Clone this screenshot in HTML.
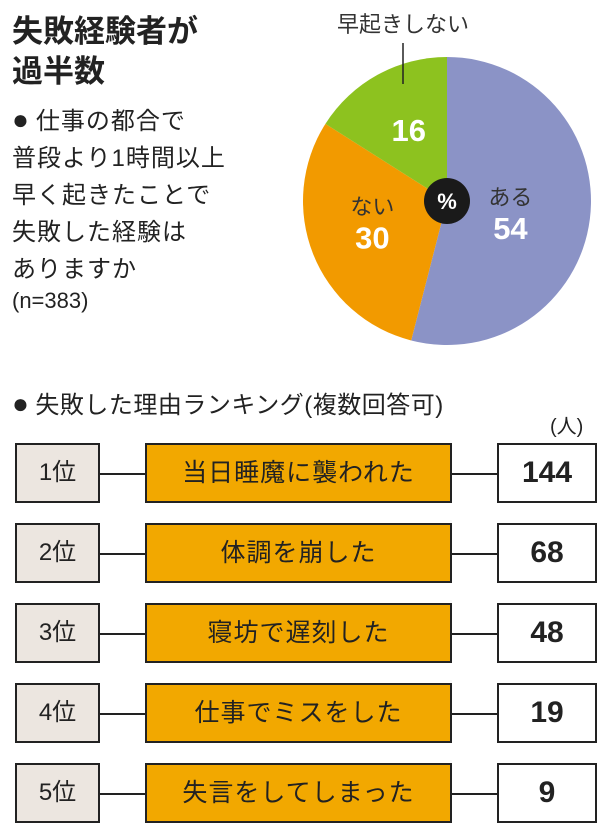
<!DOCTYPE html>
<html><head><meta charset="utf-8">
<style>
body{margin:0;background:#fff;}
#root{position:relative;width:600px;height:830px;overflow:hidden;background:#fff;font-family:"Liberation Sans","Noto Sans CJK JP",sans-serif;color:#222;}
.abs{position:absolute;white-space:nowrap;}
.title{font-weight:bold;font-size:31px;line-height:40px;left:12px;}
.body{font-size:24px;left:12px;line-height:37px;letter-spacing:1px;}
.dot{font-size:28px;line-height:24px;margin-right:6px;}
.rank,.reason,.val{box-sizing:border-box;line-height:1;}
.rank{position:absolute;left:15px;width:85px;height:60px;border:2.5px solid #222;background:#ece6e0;font-size:24px;display:flex;align-items:center;justify-content:center;}
.reason{position:absolute;left:145px;width:307px;height:60px;border:2.5px solid #222;background:#f2a800;font-size:25px;display:flex;align-items:center;justify-content:center;letter-spacing:1px;}
.val{position:absolute;left:497px;width:100px;height:60px;border:2.5px solid #222;background:#fff;font-size:30px;font-weight:bold;display:flex;align-items:center;justify-content:center;}
.line{position:absolute;height:1.5px;background:#222;}
</style></head><body>
<div id="root">
<div class="abs title" style="top:12px">失敗経験者が</div>
<div class="abs title" style="top:52px">過半数</div>
<div class="abs body" style="top:103px"><span class="dot">●</span>仕事の都合で<br>普段より1時間以上<br>早く起きたことで<br>失敗した経験は<br>ありますか</div>
<div class="abs" style="left:12px;top:288px;font-size:22px">(n=383)</div>

<svg id="pie" class="abs" style="left:0;top:0" width="600" height="360"></svg>

<div class="abs" style="left:12px;top:385px;font-size:24px;letter-spacing:0.5px"><span class="dot">●</span>失敗した理由ランキング(複数回答可)</div>
<div class="abs" style="left:550px;top:410px;font-size:20px">(人)</div>
<div id="rows"></div>

<script>
const pieLabels=["ある","ない","早起きしない"];
const pieValues=[54,30,16];
const pieColors=["#8b93c6","#f29a00","#8dc21f"];
const ranks=["1位","2位","3位","4位","5位"];
const reasons=["当日睡魔に襲われた","体調を崩した","寝坊で遅刻した","仕事でミスをした","失言をしてしまった"];
const counts=[144,68,48,19,9];

const NS="http://www.w3.org/2000/svg";
const svg=document.getElementById('pie');
const cx=447,cy=201,r=144;
const total=pieValues.reduce((a,b)=>a+b,0);
function pt(a,rad){return [cx+rad*Math.sin(a),cy-rad*Math.cos(a)];}
let acc=0;
const mids=[];
pieValues.forEach((v,i)=>{
  const a0=acc/total*2*Math.PI; acc+=v; const a1=acc/total*2*Math.PI;
  const p0=pt(a0,r),p1=pt(a1,r);
  const path=document.createElementNS(NS,'path');
  path.setAttribute('d',`M${cx},${cy}L${p0[0]},${p0[1]}A${r},${r} 0 ${a1-a0>Math.PI?1:0} 1 ${p1[0]},${p1[1]}Z`);
  path.setAttribute('fill',pieColors[i]);
  
  
  svg.appendChild(path);
  mids.push((a0+a1)/2);
});
function txt(x,y,s,size,fill,weight,name){
  const t=document.createElementNS(NS,'text');
  t.setAttribute('x',x);t.setAttribute('y',y);t.setAttribute('font-size',size);
  t.setAttribute('fill',fill);t.setAttribute('font-weight',weight);t.setAttribute('text-anchor','middle');
  t.setAttribute('font-family','"Liberation Sans","Noto Sans CJK JP",sans-serif');
  t.textContent=s;
  
  
  svg.appendChild(t);return t;
}
const p0=pt(mids[0],r*0.5);
txt(p0[0]-8,p0[1]-5,pieLabels[0],22,'#333','normal','pie-label-1');
txt(p0[0]-8,p0[1]+29,pieValues[0],31,'#fff','bold','pie-value-1');
const p1=pt(mids[1],r*0.58);
txt(p1[0]+3,p1[1]-17,pieLabels[1],22,'#333','normal','pie-label-2');
txt(p1[0]+3,p1[1]+17,pieValues[1],31,'#fff','bold','pie-value-2');
const p2=pt(mids[2],r*0.58);
txt(p2[0]+2,p2[1]+13,pieValues[2],31,'#fff','bold','pie-value-3');
txt(403,32,pieLabels[2],22,'#333','normal','pie-label-3');
const ln=document.createElementNS(NS,'line');
ln.setAttribute('x1',403);ln.setAttribute('y1',43);ln.setAttribute('x2',403);ln.setAttribute('y2',84);
ln.setAttribute('stroke','#222');ln.setAttribute('stroke-width','1.5');


svg.appendChild(ln);
const c=document.createElementNS(NS,'circle');
c.setAttribute('cx',cx);c.setAttribute('cy',cy);c.setAttribute('r',23);c.setAttribute('fill','#1a1a1a');


svg.appendChild(c);
txt(cx,cy+8,'%',22,'#fff','bold','percent-sign');

const rows=document.getElementById('rows');
ranks.forEach((rk,i)=>{
  const top=443+i*80;
  const mk=(cls,text,name,extra)=>{
    const d=document.createElement('div');d.className=cls;d.textContent=text;d.style.top=top+'px';
    if(extra)Object.assign(d.style,extra);
    
    
    rows.appendChild(d);
  };
  mk('line','','connector-left-'+(i+1),{left:'100px',width:'45px',top:(top+30)+'px'});
  mk('line','','connector-right-'+(i+1),{left:'452px',width:'45px',top:(top+30)+'px'});
  mk('rank',rk,'rank-'+(i+1));
  mk('reason',reasons[i],'reason-'+(i+1));
  mk('val',counts[i],'count-'+(i+1));
});
</script>
</div>
</body></html>
